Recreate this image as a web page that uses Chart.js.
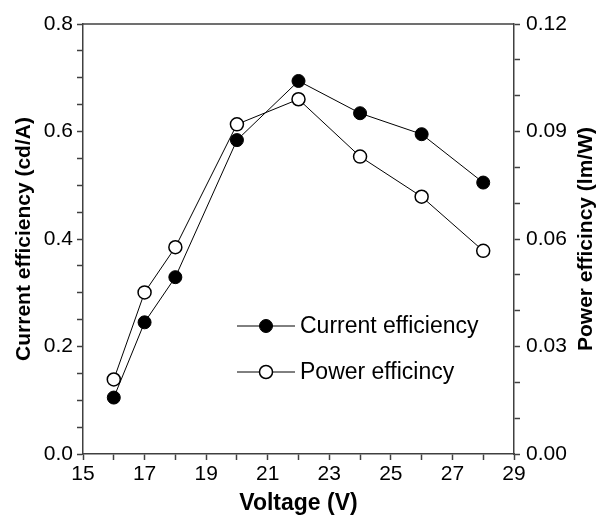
<!DOCTYPE html>
<html>
<head>
<meta charset="utf-8">
<script src="https://cdn.jsdelivr.net/npm/chart.js@4/dist/chart.umd.min.js"></script>
<style>
  html, body { margin: 0; padding: 0; background: #fff; }
  #wrap { width: 598px; height: 517px; }
</style>
</head>
<body>
<div id="wrap"><canvas id="effChart"></canvas></div>
<script>
// data
const voltage = [16, 17, 18, 20, 22, 24, 26, 28];
const currentEff = [0.105, 0.245, 0.329, 0.584, 0.694, 0.634, 0.595, 0.505]; // cd/A, left axis
const powerEff = [0.0208, 0.0451, 0.0577, 0.092, 0.099, 0.083, 0.0718, 0.0567]; // lm/W, right axis
const seriesNames = ['Current efficiency', 'Power efficincy'];
const axisTitles = ['Voltage (V)', 'Current efficiency (cd/A)', 'Power efficincy (lm/W)'];

const axisColor = '#404040';
const fontFamily = '"Liberation Sans", Arial, Helvetica, sans-serif';

function pts(xs, ys) {
    return xs.map((x, i) => ({ x: x, y: ys[i] }));
}

// top frame line, right axis title (reads bottom-to-top) and the inset legend
const extras = {
    id: 'extras',
    afterDraw(chart) {
        const ctx = chart.ctx;
        const area = chart.chartArea;
        ctx.save();
        ctx.strokeStyle = axisColor;
        ctx.lineWidth = 1.5;
        ctx.beginPath();
        ctx.moveTo(area.left, area.top);
        ctx.lineTo(area.right, area.top);
        ctx.stroke();

        // right title
        ctx.fillStyle = '#000';
        ctx.font = 'bold 21px ' + fontFamily;
        ctx.textAlign = 'center';
        ctx.textBaseline = 'middle';
        ctx.translate(chart.width - 12, (area.top + area.bottom) / 2);
        ctx.rotate(-Math.PI / 2);
        ctx.fillText(axisTitles[2], 0, 0);
        ctx.restore();

        // legend
        ctx.save();
        const lx = area.left + 154;
        const ly = [area.top + 302, area.top + 348];
        chart.data.datasets.forEach((ds, i) => {
            const y = ly[i];
            ctx.strokeStyle = ds.borderColor;
            ctx.lineWidth = ds.borderWidth;
            ctx.beginPath();
            ctx.moveTo(lx, y);
            ctx.lineTo(lx + 58, y);
            ctx.stroke();
            ctx.beginPath();
            ctx.arc(lx + 29, y, ds.pointRadius, 0, Math.PI * 2);
            ctx.fillStyle = ds.pointBackgroundColor;
            ctx.fill();
            ctx.lineWidth = ds.pointBorderWidth;
            ctx.strokeStyle = ds.pointBorderColor;
            ctx.stroke();
            ctx.fillStyle = '#000';
            ctx.font = '23px ' + fontFamily;
            ctx.textAlign = 'left';
            ctx.textBaseline = 'middle';
            ctx.fillText(ds.label, lx + 63, y + 1);
        });
        ctx.restore();
    }
};

var ctx = document.getElementById('effChart').getContext('2d');
var effChart = new Chart(ctx, {
    type: 'line',
    data: {
        datasets: [{
            label: seriesNames[0],
            data: pts(voltage, currentEff),
            yAxisID: 'y',
            borderColor: '#000',
            borderWidth: 1,
            pointRadius: 6.5,
            pointHoverRadius: 6.5,
            pointBackgroundColor: '#000',
            pointBorderColor: '#000',
            pointBorderWidth: 1,
            tension: 0
        }, {
            label: seriesNames[1],
            data: pts(voltage, powerEff),
            yAxisID: 'y1',
            borderColor: '#000',
            borderWidth: 1,
            pointRadius: 6.5,
            pointHoverRadius: 6.5,
            pointBackgroundColor: '#fff',
            pointBorderColor: '#000',
            pointBorderWidth: 1.5,
            tension: 0
        }]
    },
    options: {
        responsive: true,
        maintainAspectRatio: false,
        animation: false,
        events: [],
        layout: { padding: { top: 24, left: 0, right: 0, bottom: 0 } },
        plugins: {
            legend: { display: false },
            tooltip: { enabled: false }
        },
        scales: {
            x: {
                type: 'linear',
                position: 'bottom',
                min: 15,
                max: 29,
                afterFit: s => { s.height = 63; },
                border: { color: axisColor, width: 1.5 },
                grid: { drawOnChartArea: false, tickLength: 6, tickColor: axisColor, tickWidth: 1.5 },
                ticks: {
                    stepSize: 1,
                    autoSkip: false,
                    maxRotation: 0,
                    padding: 2,
                    color: '#000',
                    font: { family: fontFamily, size: 21 },
                    callback: v => (v % 2 === 1 ? String(v) : '')
                },
                title: {
                    display: true,
                    text: axisTitles[0],
                    color: '#000',
                    font: { family: fontFamily, size: 23, weight: 'bold' },
                    padding: { top: 0, bottom: 0 }
                }
            },
            y: {
                type: 'linear',
                position: 'left',
                min: 0,
                max: 0.8,
                afterFit: s => { s.width = 83; },
                border: { color: axisColor, width: 1.5 },
                grid: { drawOnChartArea: false, tickLength: 6, tickColor: axisColor, tickWidth: 1.5 },
                ticks: {
                    stepSize: 0.05,
                    autoSkip: false,
                    padding: 4,
                    color: '#000',
                    font: { family: fontFamily, size: 21 },
                    callback: v => {
                        const k = Math.round(v * 20);
                        return k % 4 === 0 ? (k / 20).toFixed(1) : '';
                    }
                },
                title: {
                    display: true,
                    text: axisTitles[1],
                    color: '#000',
                    font: { family: fontFamily, size: 21, weight: 'bold' },
                    padding: { top: 12, bottom: 0 }
                }
            },
            y1: {
                type: 'linear',
                position: 'right',
                min: 0,
                max: 0.12,
                afterFit: s => { s.width = 84; },
                border: { color: axisColor, width: 1.5 },
                grid: { drawOnChartArea: false, tickLength: 6, tickColor: axisColor, tickWidth: 1.5 },
                ticks: {
                    stepSize: 0.01,
                    autoSkip: false,
                    padding: 6,
                    color: '#000',
                    font: { family: fontFamily, size: 21 },
                    callback: v => {
                        const k = Math.round(v * 100);
                        return k % 3 === 0 ? (k / 100).toFixed(2) : '';
                    }
                }
            }
        }
    },
    plugins: [extras]
});
</script>
</body>
</html>
